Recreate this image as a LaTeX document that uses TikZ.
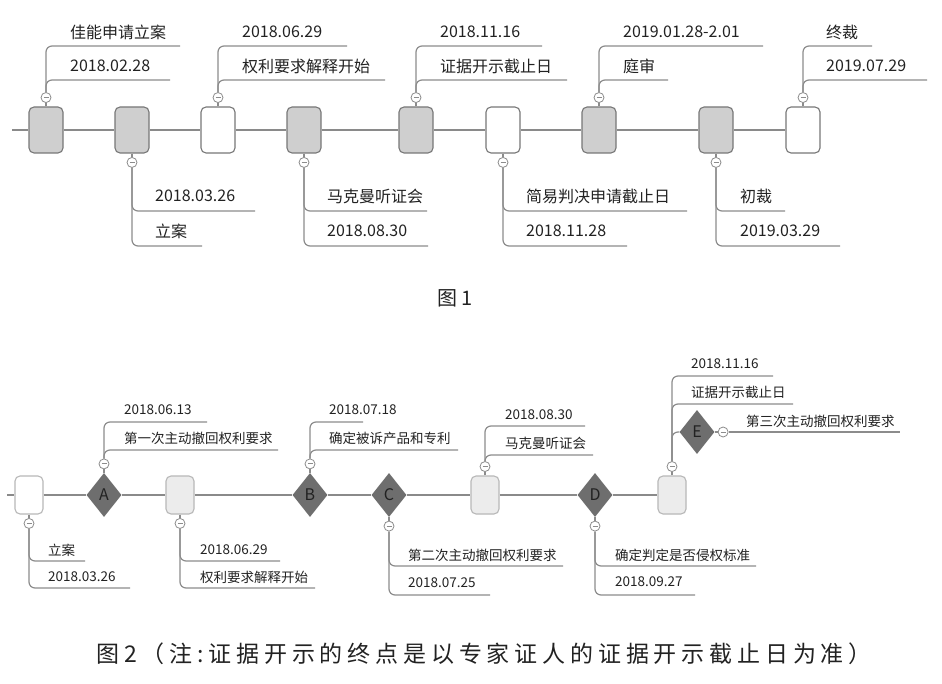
\documentclass[tikz,border=0pt]{standalone}
\usepackage{fontspec}
\usepackage{xcolor}
\usetikzlibrary{positioning, calc, shapes.geometric}
\newfontfamily\cjk{Noto Sans CJK SC}
\newfontfamily\capfont[LetterSpace=21]{Noto Sans CJK SC}
\definecolor{linegray}{HTML}{8C8C8C}
\definecolor{spinegray}{HTML}{8A8A8A}
\definecolor{boxgray}{HTML}{CFCFCF}
\definecolor{boxline}{HTML}{777777}
\definecolor{paleface}{HTML}{ECECEC}
\definecolor{paleline}{HTML}{B8B8B8}
\definecolor{diamgray}{HTML}{6E6E6E}
\definecolor{textdark}{HTML}{222222}

\begin{document}
\begin{tikzpicture}[x=1pt, y=-1pt,
    box/.style={draw=boxline, rounded corners=5pt, minimum width=34pt, minimum height=46pt, line width=1.1pt, inner sep=0pt},
    gbox/.style={box, fill=boxgray},
    wbox/.style={box, fill=white},
    sbox/.style={box, draw=paleline, minimum width=28pt, minimum height=38pt, fill=#1},
    diam/.style={diamond, fill=diamgray, minimum width=35pt, minimum height=44pt, inner sep=0pt, text=textdark, font=\cjk\fontsize{16}{16}\selectfont},
    knob/.style={circle, draw=linegray, fill=white, minimum size=10pt, inner sep=0pt, line width=.8pt,
        path picture={\draw[linegray, line width=.9pt] ([xshift=-2.5pt]path picture bounding box.center) -- ([xshift=2.5pt]path picture bounding box.center);}},
    lead/.style={draw=linegray, line width=1.2pt, rounded corners=6pt},
    spine/.style={draw=spinegray, line width=1.8pt},
    big/.style={anchor=west, inner sep=0pt, text=textdark, font=\cjk\fontsize{16}{16}\selectfont},
    small/.style={big, font=\cjk\fontsize{13.5}{13.5}\selectfont}]
    \useasboundingbox[fill=white] (0,0) rectangle (942,684);

    \node[gbox] (b1) at (46,130) {};
    \node[gbox] (b2) at (132,130) {};
    \node[wbox] (b3) at (218,130) {};
    \node[gbox] (b4) at (304,130) {};
    \node[gbox] (b5) at (416,130) {};
    \node[wbox] (b6) at (503,130) {};
    \node[gbox] (b7) at (599,130) {};
    \node[gbox] (b8) at (716,130) {};
    \node[wbox] (b9) at (803,130) {};
    \coordinate (s1) at (12,130);
    \draw[spine] (s1) -- (b1) -- (b2) -- (b3) -- (b4) -- (b5) -- (b6) -- (b7) -- (b8) -- (b9);

    \node[knob, above=3.5pt of b1] (k1) {};
    \node[knob, below=3.5pt of b2] (k2) {};
    \node[knob, above=3.5pt of b3] (k3) {};
    \node[knob, below=3.5pt of b4] (k4) {};
    \node[knob, above=3.5pt of b5] (k5) {};
    \node[knob, below=3.5pt of b6] (k6) {};
    \node[knob, above=3.5pt of b7] (k7) {};
    \node[knob, below=3.5pt of b8] (k8) {};
    \node[knob, above=3.5pt of b9] (k9) {};
    \foreach \i in {1,...,9} \draw[lead] (b\i) -- (k\i);

    \coordinate (a1) at (180,46);  \coordinate (a2) at (170,80);
    \draw[lead] (k1.north) |- (a1);  \draw[lead] (k1.north) |- (a2);
    \node[big] (t1a) at (70,32) {佳能申请立案};
    \node[big] (t1b) at (70,66) {2018.02.28};

    \coordinate (a3) at (347,46);  \coordinate (a4) at (385,80);
    \draw[lead] (k3.north) |- (a3);  \draw[lead] (k3.north) |- (a4);
    \node[big] (t3a) at (242,32) {2018.06.29};
    \node[big] (t3b) at (242,66) {权利要求解释开始};

    \coordinate (a5) at (542,46);  \coordinate (a6) at (567,80);
    \draw[lead] (k5.north) |- (a5);  \draw[lead] (k5.north) |- (a6);
    \node[big] (t5a) at (440,32) {2018.11.16};
    \node[big] (t5b) at (440,66) {证据开示截止日};

    \coordinate (a7) at (763,46);  \coordinate (a8) at (668,80);
    \draw[lead] (k7.north) |- (a7);  \draw[lead] (k7.north) |- (a8);
    \node[big] (t7a) at (623,32) {2019.01.28-2.01};
    \node[big] (t7b) at (623,66) {庭审};

    \coordinate (a9) at (872,46);  \coordinate (a10) at (927,80);
    \draw[lead] (k9.north) |- (a9);  \draw[lead] (k9.north) |- (a10);
    \node[big] (t9a) at (826,32) {终裁};
    \node[big] (t9b) at (826,66) {2019.07.29};

    \coordinate (d1) at (255,211);  \coordinate (d2) at (202,246);
    \draw[lead] (k2.south) |- (d1);  \draw[lead] (k2.south) |- (d2);
    \node[big] (t2a) at (155,196) {2018.03.26};
    \node[big] (t2b) at (155,231) {立案};

    \coordinate (d3) at (427,211);  \coordinate (d4) at (428,246);
    \draw[lead] (k4.south) |- (d3);  \draw[lead] (k4.south) |- (d4);
    \node[big] (t4a) at (327,196) {马克曼听证会};
    \node[big] (t4b) at (327,231) {2018.08.30};

    \coordinate (d5) at (687,211);  \coordinate (d6) at (627,246);
    \draw[lead] (k6.south) |- (d5);  \draw[lead] (k6.south) |- (d6);
    \node[big] (t6a) at (526,196) {简易判决申请截止日};
    \node[big] (t6b) at (526,231) {2018.11.28};

    \coordinate (d7) at (785,211);  \coordinate (d8) at (840,246);
    \draw[lead] (k8.south) |- (d7);  \draw[lead] (k8.south) |- (d8);
    \node[big] (t8a) at (740,196) {初裁};
    \node[big] (t8b) at (740,231) {2019.03.29};

    \node[font=\cjk\fontsize{20}{20}\selectfont, text=textdark] (cap1) at (455,298) {图 1};

    \node[sbox=white] (c1) at (29,495) {};
    \node[diam] (dA) at (104,495) {A};
    \node[sbox=paleface] (c2) at (180,495) {};
    \node[diam] (dB) at (310,495) {B};
    \node[diam] (dC) at (389,495) {C};
    \node[sbox=paleface] (c3) at (485,495) {};
    \node[diam] (dD) at (595,495) {D};
    \node[sbox=paleface] (c4) at (672,495) {};
    \node[diam] (dE) at (697,432) {E};
    \coordinate (s2) at (7,495);
    \draw[spine] (s2) -- (c1) -- (dA) -- (c2) -- (dB) -- (dC) -- (c3) -- (dD) -- (c4);

    \node[knob, below=3.5pt of c1] (m1) {};
    \node[knob, above=3.5pt of dA] (mA) {};
    \node[knob, below=3.5pt of c2] (m2) {};
    \node[knob, above=3.5pt of dB] (mB) {};
    \node[knob, below=3.5pt of dC] (mC) {};
    \node[knob, above=3.5pt of c3] (m3) {};
    \node[knob, below=3.5pt of dD] (mD) {};
    \node[knob, above=3.5pt of c4] (m4) {};
    \node[knob, right=3pt of dE] (mE) {};
    \foreach \i in {1,...,4} \draw[lead] (c\i) -- (m\i);
    \foreach \i in {A,B,C,D,E} \draw[lead] (d\i) -- (m\i);

    \coordinate (e1) at (85,561);  \coordinate (e2) at (130,588);
    \draw[lead] (m1.south) |- (e1);  \draw[lead] (m1.south) |- (e2);
    \node[small] (u1a) at (48,550) {立案};
    \node[small] (u1b) at (48,577) {2018.03.26};

    \coordinate (eA1) at (207,422);  \coordinate (eA2) at (278,450);
    \draw[lead] (mA.north) |- (eA1);  \draw[lead] (mA.north) |- (eA2);
    \node[small] (uAa) at (124,410) {2018.06.13};
    \node[small] (uAb) at (124,438) {第一次主动撤回权利要求};

    \coordinate (e3) at (280,561);  \coordinate (e4) at (315,588);
    \draw[lead] (m2.south) |- (e3);  \draw[lead] (m2.south) |- (e4);
    \node[small] (u2a) at (200,550) {2018.06.29};
    \node[small] (u2b) at (200,577) {权利要求解释开始};

    \coordinate (eB1) at (363,422);  \coordinate (eB2) at (458,450);
    \draw[lead] (mB.north) |- (eB1);  \draw[lead] (mB.north) |- (eB2);
    \node[small] (uBa) at (329,410) {2018.07.18};
    \node[small] (uBb) at (329,438) {确定被诉产品和专利};

    \coordinate (eC1) at (563,566);  \coordinate (eC2) at (490,595);
    \draw[lead] (mC.south) |- (eC1);  \draw[lead] (mC.south) |- (eC2);
    \node[small] (uCa) at (408,555) {第二次主动撤回权利要求};
    \node[small] (uCb) at (408,583) {2018.07.25};

    \coordinate (e5) at (585,426);  \coordinate (e6) at (593,455);
    \draw[lead] (m3.north) |- (e5);  \draw[lead] (m3.north) |- (e6);
    \node[small] (u3a) at (505,415) {2018.08.30};
    \node[small] (u3b) at (505,443) {马克曼听证会};

    \coordinate (eD1) at (756,566);  \coordinate (eD2) at (695,595);
    \draw[lead] (mD.south) |- (eD1);  \draw[lead] (mD.south) |- (eD2);
    \node[small] (uDa) at (615,555) {确定判定是否侵权标准};
    \node[small] (uDb) at (615,582) {2018.09.27};

    \coordinate (e7) at (773,376);  \coordinate (e8) at (793,404);
    \draw[lead] (m4.north) |- (e7);  \draw[lead] (m4.north) |- (e8);
    \draw[lead] (m4.north) |- (dE.west);
    \node[small] (u4a) at (691,364) {2018.11.16};
    \node[small] (u4b) at (691,392) {证据开示截止日};

    \coordinate (eE) at (900,432);
    \draw[lead] (mE) -- (eE);
    \node[small] (uE) at (746,421) {第三次主动撤回权利要求};

    \node[font=\capfont\fontsize{23}{23}\selectfont, text=textdark] (cap2) at (484,654) {图2（注:证据开示的终点是以专家证人的证据开示截止日为准）};
\end{tikzpicture}
\end{document}
